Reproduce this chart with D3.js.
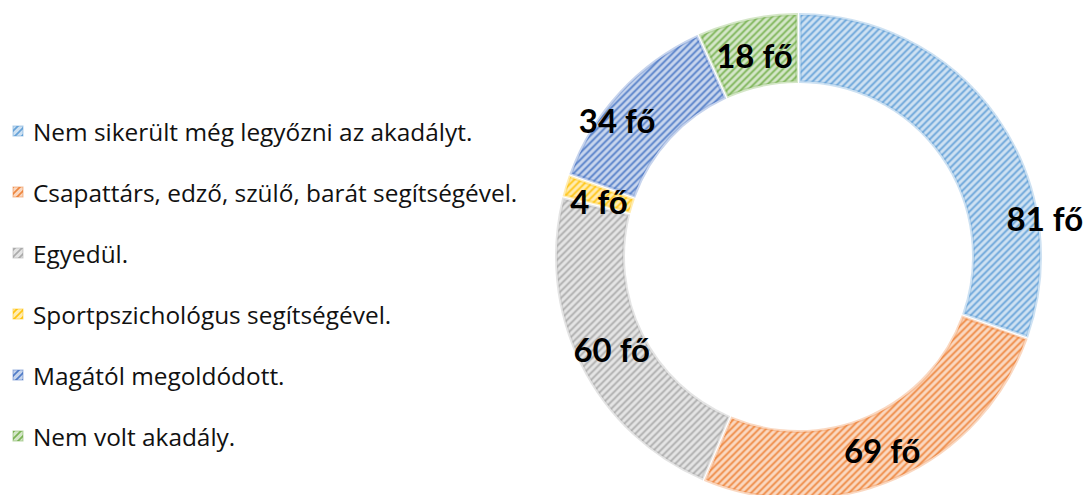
<!DOCTYPE html>
<html>
<head>
<meta charset="utf-8">
<script src="https://cdn.jsdelivr.net/npm/d3@7"></script>
<style>
  body { margin: 0; background: #fff; }
  svg { display: block; }
</style>
</head>
<body>
<div class="canva"></div>
<script>
// data
const categories = [
  "Nem sikerült még legyőzni az akadályt.",
  "Csapattárs, edző, szülő, barát segítségével.",
  "Egyedül.",
  "Sportpszichológus segítségével.",
  "Magától megoldódott.",
  "Nem volt akadály."
];
const values = [81, 69, 60, 4, 34, 18];
const unit = "fő";

const colors = ["#5B9BD5", "#ED7D31", "#A5A5A5", "#FFC000", "#4472C4", "#70AD47"];
// hand-moved labels in the original
const labelShift = [[76, 82], [0, 3], [0, 0], [0, 5], [-28, 5], [0, 2]];

const width = 1086, height = 495;
const cx = 798.5, cy = 256.5;
const outerR = 243.5, innerR = 173.5;

const svg = d3.select(".canva").append("svg")
  .attr("width", width)
  .attr("height", height);

const defs = svg.append("defs");

// striped fill, one per colour
colors.forEach((c, i) => {
  const p = defs.append("pattern")
    .attr("id", "stripe" + i)
    .attr("patternUnits", "userSpaceOnUse")
    .attr("width", 7)
    .attr("height", 7);
  p.append("rect").attr("width", 7).attr("height", 7)
    .attr("fill", d3.interpolateRgb(c, "#fff")(0.7));
  p.append("path")
    .attr("d", "M-1,8 L8,-1 M-1,1 L1,-1 M6,8 L8,6")
    .attr("stroke", c)
    .attr("stroke-width", 1.7)
    .attr("stroke-opacity", 0.9)
    .attr("fill", "none");
});

const pie = d3.pie().sort(null).value(d => d);
const arcs = pie(values);

const arc = d3.arc().innerRadius(innerR).outerRadius(outerR);
const labelArc = d3.arc().innerRadius((innerR + outerR) / 2).outerRadius((innerR + outerR) / 2);

const donut = svg.append("g")
  .attr("transform", `translate(${cx}, ${cy})`);

donut.selectAll("path.slice")
  .data(arcs)
  .enter()
  .append("path")
  .attr("class", "slice")
  .attr("d", arc)
  .attr("fill", (d, i) => `url(#stripe${i})`)
  .attr("stroke", "#fff")
  .attr("stroke-width", 3.5);

// soft darker rim along the edges of each slice
donut.selectAll("path.rim")
  .data(arcs)
  .enter()
  .append("path")
  .attr("class", "rim")
  .attr("d", d3.arc().innerRadius(innerR + 1.5).outerRadius(outerR - 1.5).padAngle(0.014))
  .attr("fill", "none")
  .attr("stroke", (d, i) => colors[i])
  .attr("stroke-opacity", 0.3)
  .attr("stroke-width", 3);

donut.selectAll("text.lbl")
  .data(arcs)
  .enter()
  .append("text")
  .attr("class", "lbl")
  .attr("x", (d, i) => labelArc.centroid(d)[0] + labelShift[i][0])
  .attr("y", (d, i) => labelArc.centroid(d)[1] + labelShift[i][1])
  .attr("text-anchor", "middle")
  .attr("dominant-baseline", "central")
  .style("font-family", "Lato, 'Open Sans', sans-serif")
  .style("font-weight", "bold")
  .style("font-size", "33px")
  .style("fill", "#000")
  .text(d => `${d.data} ${unit}`);

// legend
const legend = svg.append("g").attr("transform", "translate(13, 131)");
const rowGap = 61;

legend.selectAll("rect")
  .data(categories)
  .enter()
  .append("rect")
  .attr("x", 0)
  .attr("y", (d, i) => i * rowGap - 5)
  .attr("width", 10)
  .attr("height", 10)
  .attr("fill", (d, i) => `url(#stripe${i})`)
  .attr("stroke", (d, i) => colors[i])
  .attr("stroke-opacity", 0.5)
  .attr("stroke-width", 1);

legend.selectAll("text")
  .data(categories)
  .enter()
  .append("text")
  .attr("x", 20)
  .attr("y", (d, i) => i * rowGap)
  .attr("dominant-baseline", "central")
  .style("font-family", "'Open Sans', Lato, sans-serif")
  .style("font-size", "24.4px")
  .style("fill", "#111")
  .text(d => d);
</script>
</body>
</html>
